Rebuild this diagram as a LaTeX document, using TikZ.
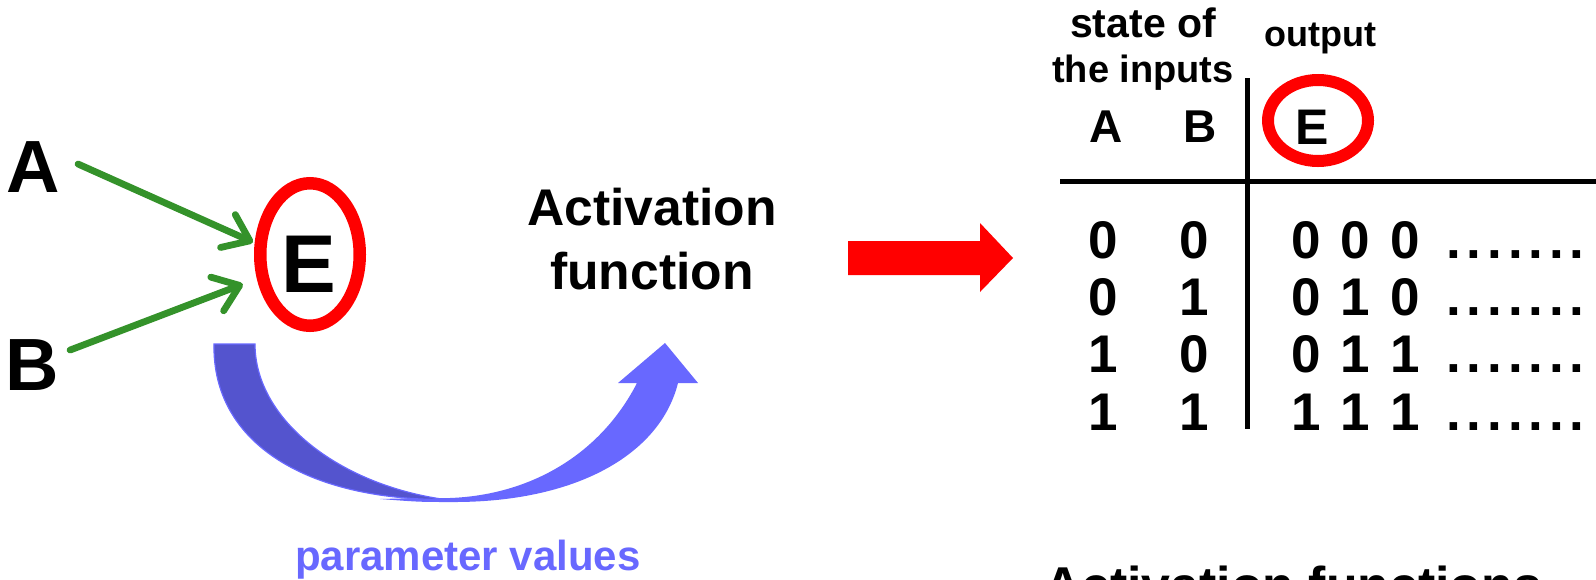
\documentclass[tikz,border=0pt]{standalone}
\usepackage{fontspec}
\setmainfont{Liberation Sans}
\usetikzlibrary{arrows.meta,shapes.geometric}

\definecolor{arrowgreen}{RGB}{52,146,42}
\definecolor{paramblue}{RGB}{104,104,255}
\definecolor{paramdark}{RGB}{84,84,206}

% seven spaced dots that trail each output row
\newcommand\dotrow{.\kern2.9pt.\kern2.9pt.\kern2.9pt.\kern2.9pt.\kern2.9pt.\kern2.9pt.}

\begin{document}
\begin{tikzpicture}[x=0.5pt,y=-0.5pt,
  lbl/.style={inner sep=0pt, anchor=base, font=\bfseries\fontsize{#1}{#1}\selectfont},
  inarrow/.style={draw=arrowgreen, line width=3.4pt, line cap=round,
    -{Straight Barb[length=12pt,width=18pt,round]}},
  ring/.style={draw=red, ellipse, inner sep=0pt},
  rule/.style={line width=2.5pt},
]
\useasboundingbox (0,0) rectangle (1596,579);
\clip (0,0) rectangle (1596,579);

% inputs and the activated node
\node[lbl=37pt] (inA) at (33,192) {A};
\node[lbl=37pt] (inB) at (32,390) {B};
\node[ring, line width=6.25pt, minimum width=49.75pt, minimum height=71.25pt] (ring) at (310,254.5) {};
\node[lbl=41pt] (outE) at (309,292) {E};

\draw[inarrow] ([shift={(18,-2.5)}]inA.east) -- ([shift={(-1.5,-2.5)}]ring.170);
\draw[inarrow] ([shift={(11,-14.5)}]inB.east) -- ([shift={(-13,10)}]ring.200);

% curved block arrow: light front band with head, dark back band
\fill[paramblue] (380,499) .. controls (420,502) .. (450,502)
  .. controls (575,503) and (660,455) .. (678,383)
  -- (698,383) -- (665,343) -- (618,383) -- (637,383)
  .. controls (600,455) and (530,495) .. (450,498)
  .. controls (420,498) .. (380,499) -- cycle;
\filldraw[fill=paramdark, draw=paramblue, line width=0.6pt]
  (214,344) -- (255,344) .. controls (255,420) and (340,485) .. (445,499.5)
  .. controls (310,500) and (212,445) .. (214,344) -- cycle;

\node[lbl=21pt, text=paramblue] (params) at (468,570) {parameter values};

% activation function label
\node[lbl=25.8pt] (act1) at (652,225) {Activation};
\node[lbl=25.8pt] (act2) at (652,289) {function};

% red block arrow
\fill[red] (848,241) -- (980,241) -- (980,223) -- (1013,258) -- (980,292)
  -- (980,275) -- (848,275) -- cycle;

% truth table header
\node[lbl=20.5pt] (hstate) at (1143,37) {state of};
\node[lbl=19pt] (hinputs) at (1143,82) {the inputs};
\node[lbl=18pt] (hout) at (1320,46) {output};
\node[lbl=23pt] (colA) at (1106,142) {A};
\node[lbl=23pt] (colB) at (1200,142) {B};
\node[ring, line width=6pt, minimum width=50pt, minimum height=40.5pt] (ringT) at (1318,120.5) {};
\node[lbl=25pt] (colE) at (1312,144) {E};

\draw[rule] (1247,78) -- (1247,429);
\draw[rule] (1060,181) -- (1596,181);

% truth table rows
\foreach \a/\b/\p/\q/\r/\y [count=\i] in
  {0/0/0/0/0/258, 0/1/0/1/0/315, 1/0/0/1/1/372, 1/1/1/1/1/430} {
  \node[lbl=26.5pt] (ra\i) at (1103,\y) {\a};
  \node[lbl=26.5pt] (rb\i) at (1194,\y) {\b};
  \node[lbl=26.5pt] (rp\i) at (1306,\y) {\p};
  \node[lbl=26.5pt] (rq\i) at (1355,\y) {\q};
  \node[lbl=26.5pt] (rr\i) at (1405,\y) {\r};
  \node[lbl=26.5pt, anchor=base west] (rd\i) at (1446,\y) {\dotrow};
}

\node[lbl=25.9pt] (caption) at (1293,603) {Activation functions};
\end{tikzpicture}
\end{document}
